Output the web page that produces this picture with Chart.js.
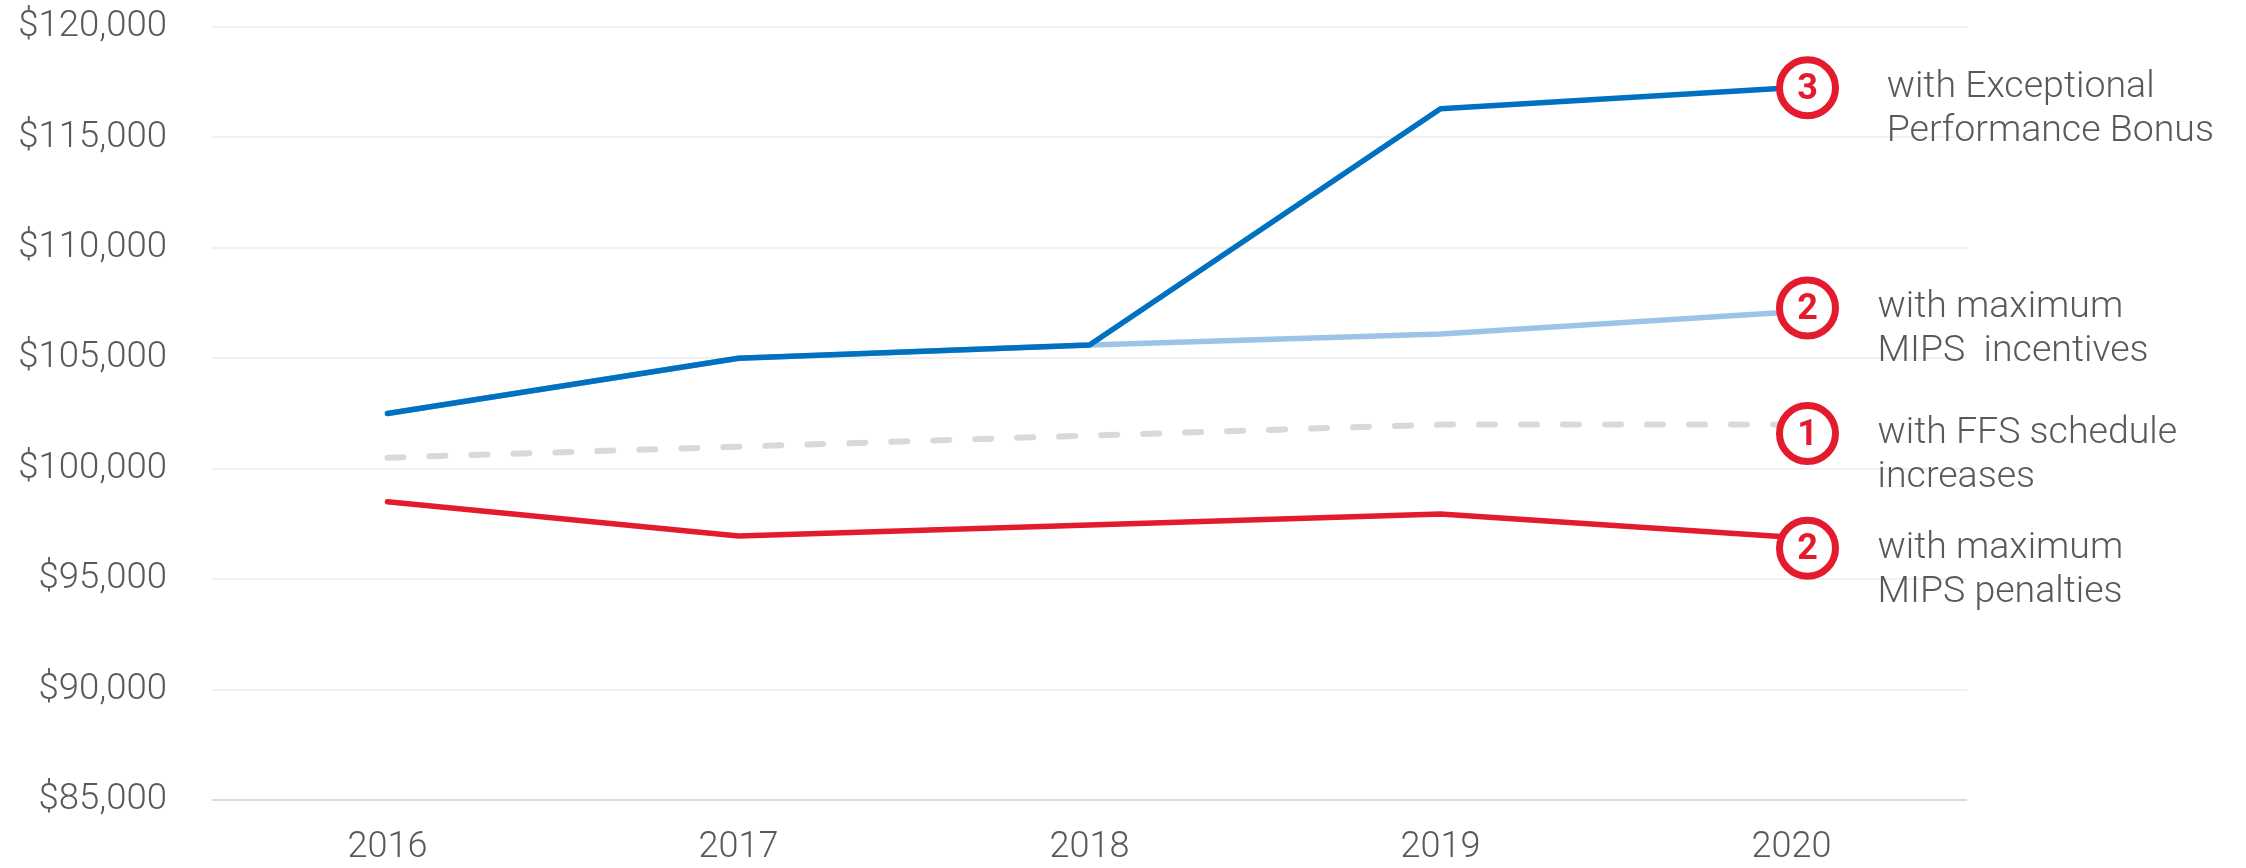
<!DOCTYPE html>
<html>
<head>
<meta charset="utf-8">
<script src="https://cdn.jsdelivr.net/npm/chart.js@4"></script>
<style>
  html, body { margin: 0; padding: 0; background: #fff; }
  #wrap { width: 2246px; height: 868px; }
</style>
</head>
<body>
<div id="wrap"><canvas id="out" width="2246" height="868"></canvas></div>
<script>
// values
const years = ["2016", "2017", "2018", "2019", "2020"];
const bonus = [102500, 105000, 105600, 116300, 117250];
const incentives = [102500, 105000, 105600, 106100, 107100];
const ffs = [100500, 101000, 101500, 102000, 102000];
const penalties = [98500, 96950, 97450, 97950, 96900];

const markerNums = ["3", "2", "1", "2"];
const markerTexts = [
  [" with Exceptional", " Performance Bonus"],
  ["with maximum", "MIPS  incentives"],
  ["with FFS schedule", "increases"],
  ["with maximum", "MIPS penalties"]
];
const markerShift = [0, -4, 9, 11]; // circle sits a bit off the line end

const RED = "#e31b2d";
const GREY_TEXT = "#595959";

// numbered circles + text at the right end of each line
const endMarkers = {
  id: "endMarkers",
  afterDatasetsDraw(chart) {
    const ctx = chart.ctx;
    chart.data.datasets.forEach((ds, i) => {
      const meta = chart.getDatasetMeta(i);
      const last = meta.data[meta.data.length - 1];
      const cx = last.x + 16;
      const cy = last.y + markerShift[i];
      ctx.save();
      ctx.beginPath();
      ctx.arc(cx, cy, 28, 0, Math.PI * 2);
      ctx.fillStyle = "#fff";
      ctx.fill();
      ctx.lineWidth = 7;
      ctx.strokeStyle = RED;
      ctx.stroke();
      ctx.fillStyle = RED;
      ctx.font = "bold 36px Roboto";
      ctx.textAlign = "center";
      ctx.textBaseline = "middle";
      ctx.fillText(markerNums[i], cx, cy + 2);
      ctx.fillStyle = GREY_TEXT;
      ctx.font = "300 37.5px Roboto";
      ctx.textAlign = "left";
      markerTexts[i].forEach((t, k) => {
        ctx.fillText(t, cx + 70, cy + k * 44);
      });
      ctx.restore();
    });
  }
};

const chartConfig = {
  type: "line",
  data: {
    labels: years,
    datasets: [
      { label: "Exceptional Performance Bonus", data: bonus, borderColor: "#0070c0", borderWidth: 5.5 },
      { label: "Maximum MIPS incentives", data: incentives, borderColor: "#9dc3e6", borderWidth: 5.5 },
      { label: "FFS schedule increases", data: ffs, borderColor: "#d9d9d9", borderWidth: 6,
        borderDash: [16, 26], borderCapStyle: "round" },
      { label: "Maximum MIPS penalties", data: penalties, borderColor: RED, borderWidth: 5.5 }
    ]
  },
  options: {
    responsive: false,
    animation: false,
    layout: { autoPadding: false, padding: { top: 27, right: 279, left: 0, bottom: 0 } },
    elements: {
      point: { radius: 0, hoverRadius: 0 },
      line: { tension: 0, borderCapStyle: "round", borderJoinStyle: "round" }
    },
    plugins: { legend: { display: false }, tooltip: { enabled: false } },
    scales: {
      x: {
        offset: true,
        grid: { display: false, drawTicks: false },
        border: { display: false },
        ticks: { color: GREY_TEXT, font: { family: "Roboto", size: 36, weight: 300 }, padding: 26 },
        afterFit(scale) { scale.height = 68; }
      },
      y: {
        min: 85000,
        max: 120000,
        grid: {
          drawTicks: true,
          tickLength: 45,
          tickColor: "transparent",
          lineWidth: 2,
          color: c => (c.tick && c.tick.value === 85000 ? "#dcdcdc" : "#f0f0f0")
        },
        border: { display: false },
        ticks: {
          stepSize: 5000,
          padding: 0,
          color: GREY_TEXT,
          font: { family: "Roboto", size: 36.5, weight: 300 },
          callback: v => "$" + v.toLocaleString("en-US")
        },
        afterFit(scale) { scale.width = 212; }
      }
    }
  },
  plugins: [endMarkers]
};

window.chart = new Chart(document.getElementById("out").getContext("2d"), chartConfig);
</script>
</body>
</html>
